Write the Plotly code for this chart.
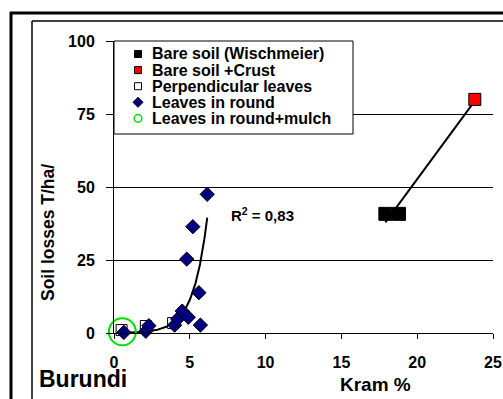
import numpy as np
import plotly.graph_objects as go

# ---------------- data ----------------
bare_x = [17.9, 18.8]
bare_y = [40.8, 40.8]
crust_x = [23.8]
crust_y = [80.0]
perp_x = [0.5, 2.1, 3.9]
perp_y = [1.0, 2.4, 3.4]
round_x = [0.65, 2.1, 2.3, 4.0, 4.2, 4.5, 4.9, 4.8, 5.2, 5.6, 5.7, 6.15]
round_y = [0.2, 0.6, 2.5, 2.7, 4.8, 7.5, 5.4, 25.3, 36.4, 13.8, 2.7, 47.5]
mulch_x = [0.55]
mulch_y = [0.4]

# exponential trend of "Leaves in round" as displayed (y = a*exp(b*x))
trend_a = 0.05
trend_b = 1.085
r2_label = "R<sup>2</sup> = 0,83"

x_ticks = [0, 5, 10, 15, 20, 25]
y_ticks = [0, 25, 50, 75, 100]

names = ["Bare soil (Wischmeier)", "Bare soil +Crust", "Perpendicular leaves",
         "Leaves in round", "Leaves in round+mulch"]

FONT = "Arial, Liberation Sans, sans-serif"
NAVY = "#000080"
GREEN = "#00dd00"

# ---------------- geometry helpers (pixels -> paper) ----------------
L, R, T, B = 114, 10, 41, 66
W, H = 503, 399
pw, ph = W - L - R, H - T - B


def px(xp):
    return (xp - L) / pw


def py(yp):
    return (H - B - yp) / ph


fig = go.Figure()

# trend lines
tx = np.linspace(min(round_x), max(round_x), 200)
fig.add_trace(go.Scatter(x=tx, y=trend_a * np.exp(trend_b * tx), mode="lines",
                         line=dict(color="black", width=2), showlegend=False,
                         hoverinfo="skip"))
lx_all = np.array(bare_x + crust_x)
ly_all = np.array(bare_y + crust_y)
slope, icpt = np.polyfit(lx_all, ly_all, 1)
lx = np.array([lx_all.min(), lx_all.max()])
fig.add_trace(go.Scatter(x=lx, y=slope * lx + icpt, mode="lines",
                         line=dict(color="black", width=2), showlegend=False,
                         hoverinfo="skip"))

# data markers
fig.add_trace(go.Scatter(x=perp_x, y=perp_y, mode="markers", name=names[2],
                         showlegend=False, cliponaxis=False,
                         marker=dict(symbol="square", size=11, color="white",
                                     line=dict(color="black", width=1))))
fig.add_trace(go.Scatter(x=round_x, y=round_y, mode="markers", name=names[3],
                         showlegend=False, cliponaxis=False,
                         marker=dict(symbol="diamond", size=11, color=NAVY,
                                     line=dict(color="black", width=1))))
fig.add_trace(go.Scatter(x=mulch_x, y=mulch_y, mode="markers", name=names[4],
                         showlegend=False, cliponaxis=False,
                         marker=dict(symbol="circle-open", size=27, color=GREEN,
                                     line=dict(color=GREEN, width=2))))
fig.add_trace(go.Scatter(x=bare_x, y=bare_y, mode="markers", name=names[0],
                         showlegend=False, cliponaxis=False,
                         marker=dict(symbol="square", size=13, color="black",
                                     line=dict(color="black", width=1))))
fig.add_trace(go.Scatter(x=crust_x, y=crust_y, mode="markers", name=names[1],
                         showlegend=False, cliponaxis=False,
                         marker=dict(symbol="square", size=12, color="red",
                                     line=dict(color="black", width=1))))

# ---------------- frames ----------------
shapes = [
    dict(type="line", xref="paper", yref="paper", x0=px(11), x1=px(11),
         y0=py(12), y1=py(399), line=dict(color="black", width=3)),
    dict(type="line", xref="paper", yref="paper", x0=px(10), x1=px(503),
         y0=py(13), y1=py(13), line=dict(color="black", width=3)),
    dict(type="line", xref="paper", yref="paper", x0=px(32), x1=px(32),
         y0=py(21), y1=py(399), line=dict(color="black", width=1.5)),
    dict(type="line", xref="paper", yref="paper", x0=px(32), x1=px(503),
         y0=py(21), y1=py(21), line=dict(color="black", width=1.5)),
    dict(type="rect", xref="paper", yref="paper", x0=px(114), x1=px(353),
         y0=py(41), y1=py(134), fillcolor="white", layer="above",
         line=dict(color="black", width=1)),
]

row_y = [54 + 16.1 * i for i in range(5)]
mx = 138
sq = 3.5
shapes.append(dict(type="rect", xref="paper", yref="paper", layer="above",
                   x0=px(mx - sq), x1=px(mx + sq), y0=py(row_y[0] + sq), y1=py(row_y[0] - sq),
                   fillcolor="black", line=dict(color="black", width=1)))
shapes.append(dict(type="rect", xref="paper", yref="paper", layer="above",
                   x0=px(mx - sq), x1=px(mx + sq), y0=py(row_y[1] + sq), y1=py(row_y[1] - sq),
                   fillcolor="red", line=dict(color="black", width=1)))
shapes.append(dict(type="rect", xref="paper", yref="paper", layer="above",
                   x0=px(mx - sq), x1=px(mx + sq), y0=py(row_y[2] + sq), y1=py(row_y[2] - sq),
                   fillcolor="white", line=dict(color="black", width=1)))
d = 5
cy = row_y[3]
shapes.append(dict(type="path", xref="paper", yref="paper", layer="above",
                   path=(f"M {px(mx - d)} {py(cy)} L {px(mx)} {py(cy - d)} "
                         f"L {px(mx + d)} {py(cy)} L {px(mx)} {py(cy + d)} Z"),
                   fillcolor=NAVY, line=dict(color="black", width=1)))
cr = 3.8
shapes.append(dict(type="circle", xref="paper", yref="paper", layer="above",
                   x0=px(mx - cr), x1=px(mx + cr), y0=py(row_y[4] + cr), y1=py(row_y[4] - cr),
                   fillcolor="rgba(0,0,0,0)", line=dict(color=GREEN, width=1.5)))

annotations = [
    dict(xref="paper", yref="paper", x=px(150), y=py(yy), text=nm, showarrow=False,
         xanchor="left", yanchor="middle",
         font=dict(family=FONT, size=16, color="black", weight="bold"))
    for nm, yy in zip(names, row_y)
]
annotations += [
    dict(xref="x", yref="y", x=7.6, y=40.5, text=r2_label, showarrow=False,
         xanchor="left", yanchor="middle",
         font=dict(family=FONT, size=15, color="black", weight="bold")),
    dict(xref="paper", yref="paper", x=px(48), y=py(233), text="Soil losses T/ha/",
         textangle=-90, showarrow=False, xanchor="center", yanchor="middle",
         font=dict(family=FONT, size=17.5, color="black", weight="bold")),
    dict(xref="paper", yref="paper", x=px(375), y=py(384), text="Kram %",
         showarrow=False, xanchor="center", yanchor="middle",
         font=dict(family=FONT, size=19, color="black", weight="bold")),
    dict(xref="paper", yref="paper", x=px(37), y=py(379), text="Burundi",
         showarrow=False, xanchor="left", yanchor="middle",
         font=dict(family=FONT, size=23, color="black", weight="bold")),
]

fig.update_layout(
    template="none",
    width=W, height=H,
    margin=dict(l=L, r=R, t=T, b=B, pad=0, autoexpand=False),
    paper_bgcolor="white", plot_bgcolor="white",
    shapes=shapes, annotations=annotations,
    showlegend=False, dragmode=False,
    font=dict(family=FONT, color="black"),
)
fig.update_xaxes(range=[0, 25], tickvals=x_ticks, ticks="outside", ticklen=5,
                 tickwidth=1, tickcolor="black", showline=True, linecolor="black",
                 linewidth=1, showgrid=False, zeroline=False, automargin=False,
                 ticklabelstandoff=10, fixedrange=True,
                 tickfont=dict(family=FONT, size=16, color="black", weight="bold"))
fig.update_yaxes(range=[0, 100], tickvals=y_ticks, ticks="outside", ticklen=7,
                 tickwidth=1, tickcolor="black", showline=True, linecolor="black",
                 linewidth=1, showgrid=True, gridcolor="black", gridwidth=1,
                 zeroline=False, automargin=False, ticklabelstandoff=8, fixedrange=True,
                 tickfont=dict(family=FONT, size=16, color="black", weight="bold"))

fig.write_html("out.html", config={"displayModeBar": False, "staticPlot": True})
